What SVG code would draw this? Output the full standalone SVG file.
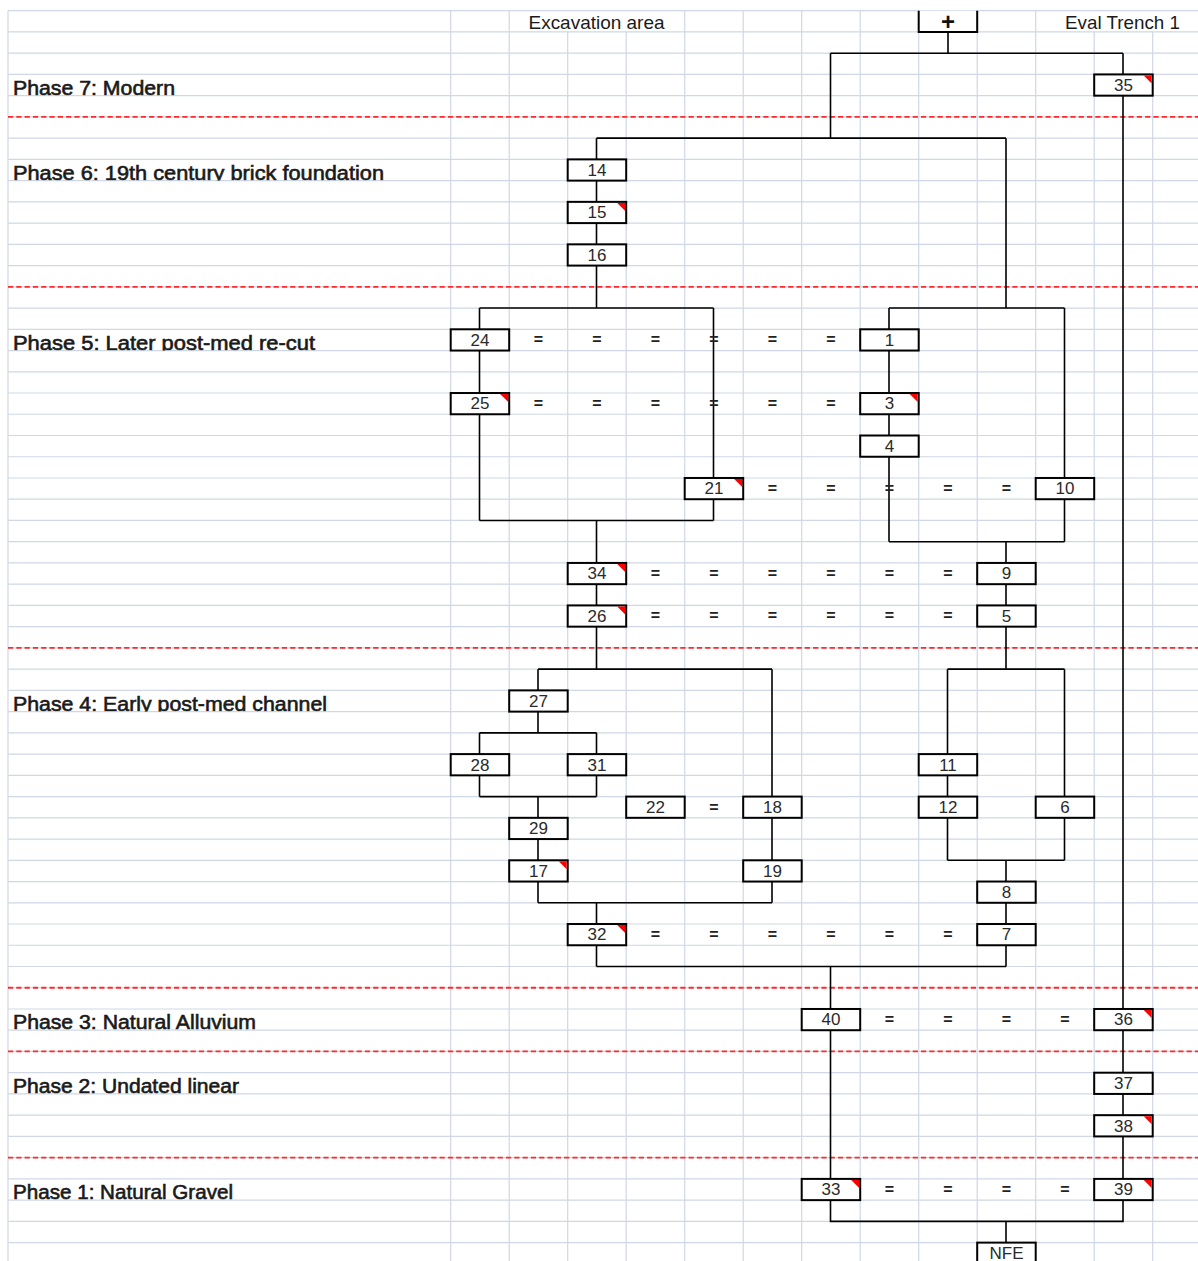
<svg xmlns="http://www.w3.org/2000/svg" width="1198" height="1261" viewBox="0 0 1198 1261">
<style>
.g{stroke:#d0d7e5;stroke-width:1.2;fill:none}
.ph{stroke:#ff2a2a;stroke-width:1.8;stroke-dasharray:5.2 3.1;fill:none}
.c{stroke:#000;stroke-width:1.6;fill:none}
.b{fill:#fff;stroke:#000;stroke-width:2}
.t{fill:#f00}
.n{font-family:"Liberation Sans",Arial,sans-serif;font-size:17px;text-anchor:middle;fill:#2a2a2a}
.e{font-family:"Liberation Sans",Arial,sans-serif;font-size:16px;font-weight:bold;text-anchor:middle;fill:#222}
.lab{font-family:"Liberation Sans",Arial,sans-serif;font-size:20px;fill:#1a1a1a;stroke:#1a1a1a;stroke-width:0.6}
.hd{font-family:"Liberation Sans",Arial,sans-serif;font-size:18.5px;text-anchor:middle;fill:#1a1a1a}
</style>
<defs>
<clipPath id="labclip" clipPathUnits="userSpaceOnUse">
<rect x="8" y="74.42" width="443" height="21.24"/>
<rect x="8" y="159.38" width="443" height="21.24"/>
<rect x="8" y="329.3" width="443" height="21.24"/>
<rect x="8" y="690.38" width="443" height="21.24"/>
<rect x="8" y="1008.98" width="443" height="21.24"/>
<rect x="8" y="1072.7" width="443" height="21.24"/>
<rect x="8" y="1178.9" width="443" height="21.24"/>
</clipPath>
</defs>
<rect width="1198" height="1261" fill="#fff"/>
<g id="grid">
<path class="g" d="M8 10.7H1198M8 31.94H1198M8 53.18H1198M8 74.42H1198M8 95.66H1198M8 116.9H1198M8 138.14H1198M8 159.38H1198M8 180.62H1198M8 201.86H1198M8 223.1H1198M8 244.34H1198M8 265.58H1198M8 286.82H1198M8 308.06H1198M8 329.3H1198M8 350.54H1198M8 371.78H1198M8 393.02H1198M8 414.26H1198M8 435.5H1198M8 456.74H1198M8 477.98H1198M8 499.22H1198M8 520.46H1198M8 541.7H1198M8 562.94H1198M8 584.18H1198M8 605.42H1198M8 626.66H1198M8 647.9H1198M8 669.14H1198M8 690.38H1198M8 711.62H1198M8 732.86H1198M8 754.1H1198M8 775.34H1198M8 796.58H1198M8 817.82H1198M8 839.06H1198M8 860.3H1198M8 881.54H1198M8 902.78H1198M8 924.02H1198M8 945.26H1198M8 966.5H1198M8 987.74H1198M8 1008.98H1198M8 1030.22H1198M8 1051.46H1198M8 1072.7H1198M8 1093.94H1198M8 1115.18H1198M8 1136.42H1198M8 1157.66H1198M8 1178.9H1198M8 1200.14H1198M8 1221.38H1198M8 1242.62H1198"/>
<path class="g" d="M8 10.7V1261M450.7 10.7V1261M509.2 10.7V1261M567.7 31.94V1261M626.2 31.94V1261M684.7 10.7V1261M743.2 10.7V1261M801.7 10.7V1261M860.2 10.7V1261M918.7 10.7V1261M977.2 10.7V1261M1035.7 10.7V1261M1094.2 31.94V1261M1152.7 31.94V1261"/>
</g>
<g id="phase-lines">
<path class="ph" d="M8 116.9H1198M8 286.82H1198M8 647.9H1198M8 987.74H1198M8 1051.46H1198M8 1157.66H1198"/>
</g>
<g id="labels">
<text class="hd" x="596.5" y="29.3" textLength="136" lengthAdjust="spacingAndGlyphs">Excavation area</text>
<text class="hd" x="1122.5" y="29.3" textLength="115" lengthAdjust="spacingAndGlyphs">Eval Trench 1</text>
<g clip-path="url(#labclip)">
<text class="lab" x="13" y="94.8" textLength="162" lengthAdjust="spacingAndGlyphs">Phase 7: Modern</text>
<text class="lab" x="13" y="179.7" textLength="371" lengthAdjust="spacingAndGlyphs">Phase 6: 19th century brick foundation</text>
<text class="lab" x="13" y="349.6" textLength="302" lengthAdjust="spacingAndGlyphs">Phase 5: Later post-med re-cut</text>
<text class="lab" x="13" y="710.7" textLength="314" lengthAdjust="spacingAndGlyphs">Phase 4: Early post-med channel</text>
<text class="lab" x="13" y="1029.3" textLength="243" lengthAdjust="spacingAndGlyphs">Phase 3: Natural Alluvium</text>
<text class="lab" x="13" y="1093" textLength="226" lengthAdjust="spacingAndGlyphs">Phase 2: Undated linear</text>
<text class="lab" x="13" y="1199.2" textLength="220" lengthAdjust="spacingAndGlyphs">Phase 1: Natural Gravel</text>
</g>
</g>
<g id="connectors">
<path class="c" d="M948 31.94V53.18M830.5 53.18H1123M1123 53.18V74.42M1123 95.66V1008.98M830.5 53.18V138.14M596.5 138.14H1006M596.5 138.14V159.38M596.5 180.62V201.86M596.5 223.1V244.34M596.5 265.58V308.06M479.5 308.06H713.5M479.5 308.06V329.3M479.5 350.54V393.02M479.5 414.26V520.46M713.5 308.06V477.98M713.5 499.22V520.46M479.5 520.46H713.5M596.5 520.46V562.94M596.5 584.18V605.42M596.5 626.66V669.14M538 669.14H772M538 669.14V690.38M538 711.62V732.86M479.5 732.86H596.5M479.5 732.86V754.1M596.5 732.86V754.1M479.5 775.34V796.58M596.5 775.34V796.58M479.5 796.58H596.5M538 796.58V817.82M538 839.06V860.3M538 881.54V902.78M772 669.14V796.58M772 817.82V860.3M772 881.54V902.78M538 902.78H772M596.5 902.78V924.02M596.5 945.26V966.5M596.5 966.5H1006M1006 945.26V966.5M830.5 966.5V1008.98M830.5 1030.22V1178.9M1123 1030.22V1072.7M1123 1093.94V1115.18M1123 1136.42V1178.9M830.5 1200.14V1221.38H1123V1200.14M1006 1221.38V1242.62M1006 138.14V308.06M889 308.06H1064.5M889 308.06V329.3M889 350.54V393.02M889 414.26V435.5M889 456.74V541.7M1064.5 308.06V477.98M1064.5 499.22V541.7M889 541.7H1064.5M1006 541.7V562.94M1006 584.18V605.42M1006 626.66V669.14M947.5 669.14H1064.5M947.5 669.14V754.1M947.5 775.34V796.58M947.5 817.82V860.3M1064.5 669.14V796.58M1064.5 817.82V860.3M947.5 860.3H1064.5M1006 860.3V881.54M1006 902.78V924.02"/>
</g>
<g id="equivalences">
<text class="e" x="538.5" y="345.3">=</text><text class="e" x="597" y="345.3">=</text><text class="e" x="655.5" y="345.3">=</text><text class="e" x="714" y="345.3">=</text><text class="e" x="772.5" y="345.3">=</text><text class="e" x="831" y="345.3">=</text>
<text class="e" x="538.5" y="409">=</text><text class="e" x="597" y="409">=</text><text class="e" x="655.5" y="409">=</text><text class="e" x="714" y="409">=</text><text class="e" x="772.5" y="409">=</text><text class="e" x="831" y="409">=</text>
<text class="e" x="772.5" y="494">=</text><text class="e" x="831" y="494">=</text><text class="e" x="889.5" y="494">=</text><text class="e" x="948" y="494">=</text><text class="e" x="1006.5" y="494">=</text>
<text class="e" x="655.5" y="579">=</text><text class="e" x="714" y="579">=</text><text class="e" x="772.5" y="579">=</text><text class="e" x="831" y="579">=</text><text class="e" x="889.5" y="579">=</text><text class="e" x="948" y="579">=</text>
<text class="e" x="655.5" y="621.4">=</text><text class="e" x="714" y="621.4">=</text><text class="e" x="772.5" y="621.4">=</text><text class="e" x="831" y="621.4">=</text><text class="e" x="889.5" y="621.4">=</text><text class="e" x="948" y="621.4">=</text>
<text class="e" x="714" y="812.6">=</text>
<text class="e" x="655.5" y="940">=</text><text class="e" x="714" y="940">=</text><text class="e" x="772.5" y="940">=</text><text class="e" x="831" y="940">=</text><text class="e" x="889.5" y="940">=</text><text class="e" x="948" y="940">=</text>
<text class="e" x="889.5" y="1025">=</text><text class="e" x="948" y="1025">=</text><text class="e" x="1006.5" y="1025">=</text><text class="e" x="1065" y="1025">=</text>
<text class="e" x="889.5" y="1194.9">=</text><text class="e" x="948" y="1194.9">=</text><text class="e" x="1006.5" y="1194.9">=</text><text class="e" x="1065" y="1194.9">=</text>
</g>
<g id="nodes">
<g id="n-top"><path d="M918.7 10.7V31.94H977.2V10.7" fill="#fff" stroke="#000" stroke-width="2"/><text x="948" y="30" font-family="Liberation Sans, Arial, sans-serif" font-size="24" font-weight="bold" text-anchor="middle" fill="#111">+</text></g>
<g id="n35"><rect class="b" x="1094.2" y="74.42" width="58.5" height="21.24"/><path class="t" d="M1143.7 75.4H1151.7V83.4Z"/><text class="n" x="1123.5" y="90.8">35</text></g>
<g id="n14"><rect class="b" x="567.7" y="159.38" width="58.5" height="21.24"/><text class="n" x="597" y="175.8">14</text></g>
<g id="n15"><rect class="b" x="567.7" y="201.86" width="58.5" height="21.24"/><path class="t" d="M617.2 202.9H625.2V210.9Z"/><text class="n" x="597" y="218.3">15</text></g>
<g id="n16"><rect class="b" x="567.7" y="244.34" width="58.5" height="21.24"/><text class="n" x="597" y="260.7">16</text></g>
<g id="n24"><rect class="b" x="450.7" y="329.3" width="58.5" height="21.24"/><text class="n" x="480" y="345.7">24</text></g>
<g id="n25"><rect class="b" x="450.7" y="393.02" width="58.5" height="21.24"/><path class="t" d="M500.2 394H508.2V402Z"/><text class="n" x="480" y="409.4">25</text></g>
<g id="n1"><rect class="b" x="860.2" y="329.3" width="58.5" height="21.24"/><text class="n" x="889.5" y="345.7">1</text></g>
<g id="n3"><rect class="b" x="860.2" y="393.02" width="58.5" height="21.24"/><path class="t" d="M909.7 394H917.7V402Z"/><text class="n" x="889.5" y="409.4">3</text></g>
<g id="n4"><rect class="b" x="860.2" y="435.5" width="58.5" height="21.24"/><text class="n" x="889.5" y="451.9">4</text></g>
<g id="n21"><rect class="b" x="684.7" y="477.98" width="58.5" height="21.24"/><path class="t" d="M734.2 479H742.2V487Z"/><text class="n" x="714" y="494.4">21</text></g>
<g id="n10"><rect class="b" x="1035.7" y="477.98" width="58.5" height="21.24"/><text class="n" x="1065" y="494.4">10</text></g>
<g id="n34"><rect class="b" x="567.7" y="562.94" width="58.5" height="21.24"/><path class="t" d="M617.2 563.9H625.2V571.9Z"/><text class="n" x="597" y="579.3">34</text></g>
<g id="n9"><rect class="b" x="977.2" y="562.94" width="58.5" height="21.24"/><text class="n" x="1006.5" y="579.3">9</text></g>
<g id="n26"><rect class="b" x="567.7" y="605.42" width="58.5" height="21.24"/><path class="t" d="M617.2 606.4H625.2V614.4Z"/><text class="n" x="597" y="621.8">26</text></g>
<g id="n5"><rect class="b" x="977.2" y="605.42" width="58.5" height="21.24"/><text class="n" x="1006.5" y="621.8">5</text></g>
<g id="n27"><rect class="b" x="509.2" y="690.38" width="58.5" height="21.24"/><text class="n" x="538.5" y="706.8">27</text></g>
<g id="n28"><rect class="b" x="450.7" y="754.1" width="58.5" height="21.24"/><text class="n" x="480" y="770.5">28</text></g>
<g id="n31"><rect class="b" x="567.7" y="754.1" width="58.5" height="21.24"/><text class="n" x="597" y="770.5">31</text></g>
<g id="n11"><rect class="b" x="918.7" y="754.1" width="58.5" height="21.24"/><text class="n" x="948" y="770.5">11</text></g>
<g id="n22"><rect class="b" x="626.2" y="796.58" width="58.5" height="21.24"/><text class="n" x="655.5" y="813">22</text></g>
<g id="n18"><rect class="b" x="743.2" y="796.58" width="58.5" height="21.24"/><text class="n" x="772.5" y="813">18</text></g>
<g id="n12"><rect class="b" x="918.7" y="796.58" width="58.5" height="21.24"/><text class="n" x="948" y="813">12</text></g>
<g id="n6"><rect class="b" x="1035.7" y="796.58" width="58.5" height="21.24"/><text class="n" x="1065" y="813">6</text></g>
<g id="n29"><rect class="b" x="509.2" y="817.82" width="58.5" height="21.24"/><text class="n" x="538.5" y="834.2">29</text></g>
<g id="n17"><rect class="b" x="509.2" y="860.3" width="58.5" height="21.24"/><path class="t" d="M558.7 861.3H566.7V869.3Z"/><text class="n" x="538.5" y="876.7">17</text></g>
<g id="n19"><rect class="b" x="743.2" y="860.3" width="58.5" height="21.24"/><text class="n" x="772.5" y="876.7">19</text></g>
<g id="n8"><rect class="b" x="977.2" y="881.54" width="58.5" height="21.24"/><text class="n" x="1006.5" y="897.9">8</text></g>
<g id="n32"><rect class="b" x="567.7" y="924.02" width="58.5" height="21.24"/><path class="t" d="M617.2 925H625.2V933Z"/><text class="n" x="597" y="940.4">32</text></g>
<g id="n7"><rect class="b" x="977.2" y="924.02" width="58.5" height="21.24"/><text class="n" x="1006.5" y="940.4">7</text></g>
<g id="n40"><rect class="b" x="801.7" y="1008.98" width="58.5" height="21.24"/><text class="n" x="831" y="1025.4">40</text></g>
<g id="n36"><rect class="b" x="1094.2" y="1008.98" width="58.5" height="21.24"/><path class="t" d="M1143.7 1010H1151.7V1018Z"/><text class="n" x="1123.5" y="1025.4">36</text></g>
<g id="n37"><rect class="b" x="1094.2" y="1072.7" width="58.5" height="21.24"/><text class="n" x="1123.5" y="1089.1">37</text></g>
<g id="n38"><rect class="b" x="1094.2" y="1115.18" width="58.5" height="21.24"/><path class="t" d="M1143.7 1116.2H1151.7V1124.2Z"/><text class="n" x="1123.5" y="1131.6">38</text></g>
<g id="n33"><rect class="b" x="801.7" y="1178.9" width="58.5" height="21.24"/><path class="t" d="M851.2 1179.9H859.2V1187.9Z"/><text class="n" x="831" y="1195.3">33</text></g>
<g id="n39"><rect class="b" x="1094.2" y="1178.9" width="58.5" height="21.24"/><path class="t" d="M1143.7 1179.9H1151.7V1187.9Z"/><text class="n" x="1123.5" y="1195.3">39</text></g>
<g id="nNFE"><rect class="b" x="977.2" y="1242.62" width="58.5" height="21.24"/><text class="n" x="1006.5" y="1259">NFE</text></g>
</g>
</svg>
